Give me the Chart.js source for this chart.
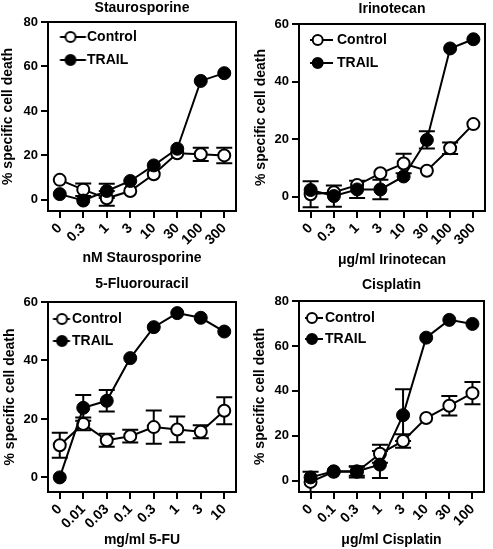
<!DOCTYPE html>
<html>
<head>
<meta charset="utf-8">
<title>% specific cell death</title>
<script src="https://cdn.jsdelivr.net/npm/chart.js@4.4.1/dist/chart.umd.min.js"></script>
<style>
  html, body { margin: 0; padding: 0; background: #fff; }
  #wrap { position: relative; width: 493px; height: 549px; }
  .panel { position: absolute; }
</style>
</head>
<body>
<div id="wrap">
  <div class="panel" style="left:0;top:0;width:245px;height:275px"><canvas id="stauro"></canvas></div>
  <div class="panel" style="left:245px;top:0;width:248px;height:275px"><canvas id="irino"></canvas></div>
  <div class="panel" style="left:0;top:275px;width:245px;height:274px"><canvas id="fu"></canvas></div>
  <div class="panel" style="left:245px;top:275px;width:248px;height:274px"><canvas id="cis"></canvas></div>
</div>
<script>
// Staurosporine
const stauroDoses = ['0', '0.3', '1', '3', '10', '30', '100', '300'];
const stauroControl = [9, 4.6, 0.7, 4, 11.5, 21, 20.5, 20];
const stauroControlErr = [0, 2.8, 3.3, 0, 0, 0, 3, 3.5];
const stauroTrail = [2.6, -0.3, 4, 8.5, 15.5, 23, 53.5, 57];
const stauroTrailErr = [0, 0, 3.2, 0, 0, 0, 0, 0];
const stauroTicks = [0, 20, 40, 60, 80];

// Irinotecan
const irinoDoses = ['0', '0.3', '1', '3', '10', '30', '100', '300'];
const irinoControl = [0.8, 1.5, 4, 8.1, 11.5, 9, 16.8, 25.2];
const irinoControlErr = [4.5, 0, 0, 0, 3.4, 0, 2, 0];
const irinoTrail = [2.3, 0.2, 2.5, 2.5, 7, 19.7, 51.5, 54.7];
const irinoTrailErr = [0, 3.7, 3, 3.4, 0, 3, 0, 0];
const irinoTicks = [0, 20, 40, 60];

// 5-Fluorouracil
const fuDoses = ['0', '0.01', '0.03', '0.1', '0.3', '1', '3', '10'];
const fuControl = [11, 18.3, 12.7, 14.1, 17.2, 16.4, 15.6, 22.8];
const fuControlErr = [4.3, 2.2, 2.2, 2.2, 5.7, 4.4, 2.2, 4.6];
const fuTrail = [0, 23.8, 26.2, 40.8, 51.4, 56.2, 54.6, 49.9];
const fuTrailErr = [0, 4.4, 3.7, 0, 0, 0, 0, 0];
const fuTicks = [0, 20, 40, 60];

// Cisplatin
const cisDoses = ['0', '0.1', '0.3', '1', '3', '10', '30', '100'];
const cisControl = [-0.5, 4, 4, 12, 17.7, 27.9, 33.4, 39];
const cisControlErr = [4.5, 0, 2.5, 4, 3, 0, 4.3, 5];
const cisTrail = [1.5, 4.2, 4.2, 7.2, 29.2, 63.7, 71.6, 69.8];
const cisTrailErr = [0, 0, 2, 6, 11.5, 0, 0, 0];
const cisTicks = [0, 20, 40, 60, 80];

const yAxisTitle = '% specific cell death';

Chart.defaults.font.family = "'Liberation Sans', Arial, Helvetica, sans-serif";
Chart.defaults.font.weight = 'bold';
Chart.defaults.color = '#000';

// error bars drawn behind the markers
const errorBars = {
    id: 'errorBars',
    beforeDatasetsDraw(chart) {
        const ctx = chart.ctx;
        const yScale = chart.scales.y;
        ctx.save();
        ctx.strokeStyle = '#000';
        ctx.lineWidth = 2;
        chart.data.datasets.forEach((ds, i) => {
            const meta = chart.getDatasetMeta(i);
            ds.errors.forEach((e, j) => {
                if (!e) return;
                const x = meta.data[j].x;
                const top = yScale.getPixelForValue(ds.data[j] + e);
                const bot = yScale.getPixelForValue(ds.data[j] - e);
                ctx.beginPath();
                ctx.moveTo(x, top); ctx.lineTo(x, bot);
                ctx.moveTo(x - 8, top); ctx.lineTo(x + 8, top);
                ctx.moveTo(x - 8, bot); ctx.lineTo(x + 8, bot);
                ctx.stroke();
            });
        });
        ctx.restore();
    }
};

// closed box round the plot
const frame = {
    id: 'frame',
    beforeDatasetsDraw(chart) {
        const a = chart.chartArea;
        const ctx = chart.ctx;
        ctx.save();
        ctx.strokeStyle = '#000';
        ctx.lineWidth = 2;
        ctx.strokeRect(a.left, a.top, a.right - a.left, a.bottom - a.top);
        ctx.restore();
    }
};

// a 'chartArea' legend starts at the canvas top, move it down into the box
const legendInBox = {
    id: 'legendInBox',
    afterLayout(chart, args, opts) {
        const lg = chart.legend;
        const shift = chart.chartArea.top + (opts.drop || 0) - lg.top;
        lg.top += shift;
        lg.bottom += shift;
    }
};

// legend symbol: short line with a circle on it
function legendIcon(filled, g) {
    const c = document.createElement('canvas');
    c.width = 60;
    c.height = 16;
    const ctx = c.getContext('2d');
    const shift = 30 - g.box / 2;
    ctx.strokeStyle = '#000';
    ctx.lineWidth = 2;
    ctx.beginPath();
    ctx.moveTo(g.from + shift, 8);
    ctx.lineTo(g.to + shift, 8);
    ctx.stroke();
    ctx.beginPath();
    ctx.arc(g.dot + shift, 8, 5, 0, Math.PI * 2);
    ctx.fillStyle = filled ? '#000' : '#fff';
    ctx.fill();
    ctx.stroke();
    return c;
}

function makeChart(id, title, xTitle, doses, control, controlErr, trail, trailErr, yTicks, g) {
    const axisLine = { display: true, color: '#000', width: 2 };
    const tickMarks = { display: true, drawOnChartArea: false, drawTicks: true, tickLength: 7, lineWidth: 2, color: '#000', offset: false };
    const icons = [legendIcon(false, g), legendIcon(true, g)];

    return new Chart(document.getElementById(id), {
        type: 'line',
        data: {
            labels: doses,
            datasets: [
                {
                    label: 'Control',
                    data: control,
                    errors: controlErr,
                    order: 2,
                    borderColor: '#000',
                    borderWidth: 2,
                    pointRadius: 6,
                    pointBorderWidth: 2,
                    pointBackgroundColor: '#fff',
                    pointBorderColor: '#000',
                    tension: 0
                },
                {
                    label: 'TRAIL',
                    data: trail,
                    errors: trailErr,
                    order: 1,
                    borderColor: '#000',
                    borderWidth: 2,
                    pointRadius: 6.5,
                    pointBorderWidth: 1,
                    pointBackgroundColor: '#000',
                    pointBorderColor: '#000',
                    tension: 0
                }
            ]
        },
        options: {
            animation: false,
            responsive: true,
            maintainAspectRatio: false,
            layout: { padding: { left: 0, top: 0, right: g.right, bottom: 0 } },
            plugins: {
                title: {
                    display: true,
                    text: title,
                    fullSize: false,
                    color: '#000',
                    font: { size: 14, weight: 'bold' },
                    padding: { top: g.titleTop, bottom: g.titleBottom }
                },
                legend: {
                    position: 'chartArea',
                    align: 'start',
                    labels: {
                        usePointStyle: true,
                        pointStyleWidth: g.box,
                        padding: g.legendPad,
                        color: '#000',
                        font: { size: 14, weight: 'bold' },
                        generateLabels: () => ['Control', 'TRAIL'].map((t, i) => ({
                            text: t,
                            pointStyle: icons[i],
                            fontColor: '#000',
                            hidden: false,
                            datasetIndex: i
                        }))
                    }
                },
                legendInBox: { drop: g.legendDrop },
                tooltip: { enabled: false }
            },
            scales: {
                x: {
                    type: 'category',
                    offset: true,
                    afterFit: s => { s.height = g.xHeight; },
                    border: axisLine,
                    grid: tickMarks,
                    ticks: {
                        autoSkip: false,
                        minRotation: 45,
                        maxRotation: 45,
                        padding: 2,
                        font: { size: 14, weight: 'bold' }
                    },
                    title: {
                        display: true,
                        text: xTitle,
                        font: { size: 14, weight: 'bold' },
                        padding: { top: 0, bottom: g.xTitlePad }
                    }
                },
                y: {
                    min: -5,
                    max: yTicks[yTicks.length - 1],
                    afterBuildTicks: s => { s.ticks = yTicks.map(v => ({ value: v })); },
                    afterFit: s => { s.width = g.yWidth; },
                    border: axisLine,
                    grid: tickMarks,
                    ticks: { padding: 3, font: { size: 13, weight: 'bold' } },
                    title: {
                        display: true,
                        text: yAxisTitle,
                        font: { size: 14, weight: 'bold' },
                        padding: { top: g.yTitlePad, bottom: 0 }
                    }
                }
            }
        },
        plugins: [frame, errorBars, legendInBox]
    });
}

makeChart('stauro', 'Staurosporine', 'nM Staurosporine', stauroDoses,
    stauroControl, stauroControlErr, stauroTrail, stauroTrailErr, stauroTicks,
    { right: 9, yWidth: 48, xHeight: 64, titleTop: 0, titleBottom: 5.2, xTitlePad: 8.6, yTitlePad: 0,
      legendPad: 9, legendDrop: -1, box: 23, from: 3, to: 29, dot: 13.5 });

makeChart('irino', 'Irinotecan', 'μg/ml Irinotecan', irinoDoses,
    irinoControl, irinoControlErr, irinoTrail, irinoTrailErr, irinoTicks,
    { right: 8, yWidth: 54, xHeight: 64, titleTop: 1, titleBottom: 6.2, xTitlePad: 6.6, yTitlePad: 8,
      legendPad: 9, legendDrop: 0, box: 22, from: 2, to: 25, dot: 9.7 });

makeChart('fu', '5-Fluorouracil', 'mg/ml 5-FU', fuDoses,
    fuControl, fuControlErr, fuTrail, fuTrailErr, fuTicks,
    { right: 9, yWidth: 48, xHeight: 57, titleTop: 1, titleBottom: 9.2, xTitlePad: 0, yTitlePad: 1.6,
      legendPad: 8, legendDrop: 2, box: 9, from: -3, to: 14, dot: 6 });

makeChart('cis', 'Cisplatin', 'μg/ml Cisplatin', cisDoses,
    cisControl, cisControlErr, cisTrail, cisTrailErr, cisTicks,
    { right: 9, yWidth: 54, xHeight: 57, titleTop: 2, titleBottom: 7.2, xTitlePad: 0, yTitlePad: 7,
      legendPad: 7, legendDrop: 3, box: 12, from: -1, to: 17, dot: 6 });
</script>
</body>
</html>
